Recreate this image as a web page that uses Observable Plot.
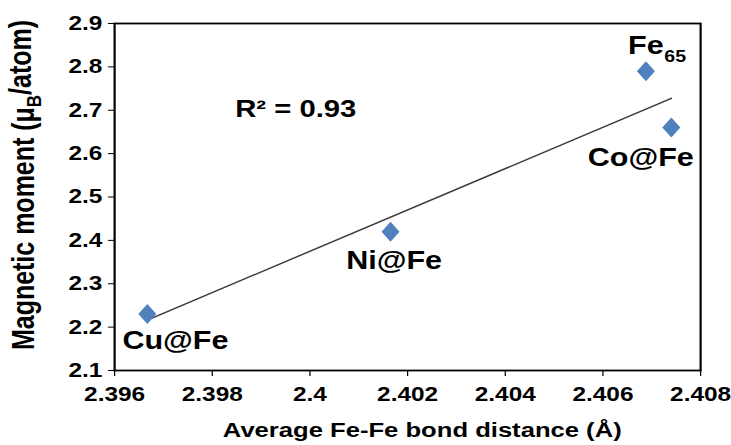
<!DOCTYPE html>
<html>
<head>
<meta charset="utf-8">
<script src="https://cdn.jsdelivr.net/npm/d3@7"></script>
<script src="https://cdn.jsdelivr.net/npm/@observablehq/plot@0.6"></script>
<style>
  html, body { margin: 0; padding: 0; background: #fff; overflow: hidden; }
  #chart { width: 731px; height: 445px; overflow: hidden; }
  #chart svg { display: block; transform-origin: 0 0; }
</style>
</head>
<body>
<div id="chart"></div>
<script>
// ---- data ----
const names = ["Cu@Fe", "Ni@Fe", "Fe65", "Co@Fe"];
const bondDistance = [2.39667, 2.40165, 2.40688, 2.4074];
const magneticMoment = [2.23, 2.42, 2.79, 2.66];
const xTicks = [2.396, 2.398, 2.4, 2.402, 2.404, 2.406, 2.408];
const yTicks = [2.1, 2.2, 2.3, 2.4, 2.5, 2.6, 2.7, 2.8, 2.9];
const xLabel = "Average Fe-Fe bond distance (Å)";
const yLabel = "Magnetic moment (μB/atom)";
const r2Text = "R² = 0.93";
const r2X = [2.39971];
const r2Y = [2.702];

const data = names.map((n, i) => ({name: n, x: bondDistance[i], y: magneticMoment[i]}));

// the reference figure is horizontally stretched; draw narrower and stretch
const OUT_W = 731;
const W = 599;
const S = OUT_W / W;

const FONT = "Liberation Sans, Arial, sans-serif";

// label offsets in (unstretched) px
const labelStyle = {
  "Cu@Fe": {dx: 23, dy: 27},
  "Ni@Fe": {dx: 3, dy: 29},
  "Co@Fe": {dx: -25, dy: 30},
  "Fe65": {dx: 0, dy: -25}
};

const diamond = {
  draw(ctx, size) {
    const h = Math.sqrt(size / Math.PI) * 1.25;
    const w = h * 0.74;
    ctx.moveTo(0, -h); ctx.lineTo(w, 0); ctx.lineTo(0, h); ctx.lineTo(-w, 0); ctx.closePath();
  }
};

const labelMarks = names.map(n => {
  const s = labelStyle[n];
  const d = data.filter(p => p.name === n);
  if (n === "Fe65") {
    return [
      Plot.text(d, {x: "x", y: "y", text: () => "Fe", dx: s.dx, dy: s.dy, fontSize: 25, fontWeight: "bold", textAnchor: "middle", fill: "#000"}),
      Plot.text(d, {x: "x", y: "y", text: () => "65", dx: s.dx + 24, dy: s.dy + 11, fontSize: 16, fontWeight: "bold", textAnchor: "middle", fill: "#000"})
    ];
  }
  return Plot.text(d, {x: "x", y: "y", text: "name", dx: s.dx, dy: s.dy, fontSize: 25, fontWeight: "bold", fill: "#000"});
});

const chart = Plot.plot({
  width: W,
  height: 445,
  marginLeft: 114 / S,
  marginRight: 31 / S,
  marginTop: 23,
  marginBottom: 75,
  style: {fontFamily: FONT, fontSize: "20px", fontWeight: "bold", color: "#000", background: "#fff"},
  x: {domain: [2.396, 2.408]},
  y: {domain: [2.1, 2.9]},
  marks: [
    Plot.axisX({ticks: xTicks, tickSize: 6, tickPadding: 10, tickFormat: d => String(+d.toFixed(3)), label: null, fontSize: 20, fontWeight: "bold"}),
    Plot.axisY({ticks: yTicks, tickSize: 5, tickPadding: 5, tickFormat: d3.format(".1f"), label: null, fontSize: 20, fontWeight: "bold"}),
    Plot.frame({stroke: "#000", strokeWidth: 1.8}),
    Plot.linearRegressionY(data, {x: "x", y: "y", ci: 0, stroke: "#3a3a3a", strokeWidth: 1.4}),
    Plot.dot(data, {x: "x", y: "y", symbol: diamond, r: 8, fill: "#4f81bd", stroke: "none"}),
    ...labelMarks.flat(),
    Plot.text([r2Text], {x: () => r2X[0], y: () => r2Y[0], text: d => d, fontSize: 24, fontWeight: "bold", fill: "#000"}),
    Plot.text([xLabel], {frameAnchor: "bottom", textAnchor: "middle", lineAnchor: "middle", dy: 60, dx: 12, text: d => d, fontSize: 21, fontWeight: "bold", fill: "#000"}),
    Plot.text([yLabel], {frameAnchor: "left", textAnchor: "middle", lineAnchor: "middle", dx: (24 - 114) / S, dy: -12, rotate: -90, text: d => d, fontSize: 25, fontWeight: "bold", fill: "#000"})
  ]
});

chart.style.transform = `scaleX(${S})`;
document.getElementById("chart").appendChild(chart);

// subscript B in μB
d3.select(chart).selectAll("text").each(function() {
  if (this.textContent === yLabel) {
    const t = d3.select(this);
    t.text(null);
    t.append("tspan").text("Magnetic moment (μ");
    t.append("tspan").attr("font-size", 17).attr("dy", "0.3em").text("B");
    t.append("tspan").attr("dy", "-0.3em").text("/atom)");
  }
});
</script>
</body>
</html>
